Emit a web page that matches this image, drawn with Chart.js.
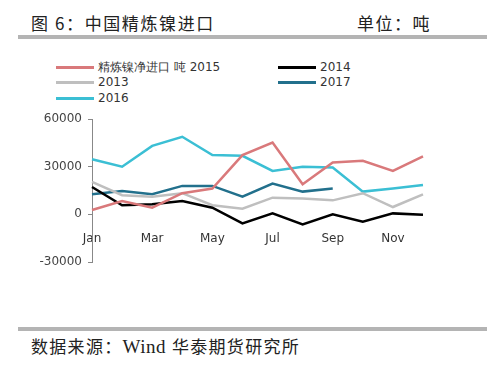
<!DOCTYPE html>
<html>
<head>
<meta charset="utf-8">
<script src="https://cdn.jsdelivr.net/npm/chart.js@4"></script>
<style>
  body { margin: 0; width: 500px; height: 368px; background: #fff; position: relative; overflow: hidden; font-family: "Noto Sans CJK SC", sans-serif; }
  #title { position: absolute; left: 31px; top: 10px; font-size: 17px; color: #222; letter-spacing: 1.6px; }
  #unit { position: absolute; left: 357px; top: 10px; font-size: 17px; color: #222; letter-spacing: 1.5px; }
  .bar { position: absolute; left: 18px; width: 469px; height: 4px; background: #b4b4b4; }
  #source { position: absolute; left: 31px; top: 333px; font-size: 17px; color: #222; letter-spacing: 1.3px; }
  #source .en { font-family: "Liberation Serif", serif; font-size: 19px; letter-spacing: 0.5px; margin-right: 6px; }
  #legend { position: absolute; left: 0; top: 59px; width: 500px; height: 50px; font-family: "DejaVu Sans", sans-serif; font-size: 12px; color: #333; }
  .item { position: absolute; height: 16px; line-height: 16px; white-space: nowrap; }
  .item span.ln { display: inline-block; width: 38px; height: 3px; vertical-align: middle; margin-right: 4px; }
  #wrap { position: absolute; left: 0; top: 100px; width: 500px; height: 180px; }
</style>
</head>
<body>
<div id="title">图 6：中国精炼镍进口</div>
<div id="unit">单位：吨</div>
<div class="bar" style="top:35px"></div>
<div id="legend"></div>
<div id="wrap"><canvas id="myChart"></canvas></div>
<div class="bar" style="top:327px"></div>
<div id="source">数据来源：<span class="en">Wind</span>华泰期货研究所</div>
<script>
const months = ['Jan', 'Feb', 'Mar', 'Apr', 'May', 'Jun', 'Jul', 'Aug', 'Sep', 'Oct', 'Nov', 'Dec'];
const yTicks = [-30000, 0, 30000, 60000];

const s2015 = [2700, 8400, 4200, 13300, 16200, 37300, 45200, 18900, 32600, 33700, 27300, 36400];
const s2014 = [17200, 5700, 6300, 8400, 4200, -5700, 600, -6300, 0, -4700, 600, -200];
const s2013 = [20400, 12000, 11100, 13300, 5700, 3500, 10500, 9900, 8800, 13300, 4600, 12600];
const s2017 = [12600, 14700, 12600, 17900, 17900, 11100, 19400, 14300, 16200, null, null, null];
const s2016 = [34700, 30000, 43100, 48800, 37300, 36800, 27300, 29900, 29500, 14300, 16200, 18500];

const series = [
    { label: '精炼镍净进口 吨 2015', data: s2015, color: '#d9797b', pos: [56, 0] },
    { label: '2014', data: s2014, color: '#000000', pos: [278, 0] },
    { label: '2013', data: s2013, color: '#bfbfbf', pos: [56, 15] },
    { label: '2017', data: s2017, color: '#22708c', pos: [278, 15] },
    { label: '2016', data: s2016, color: '#3bbfd4', pos: [56, 31] }
];

// legend laid out in two columns like the original
const legend = document.getElementById('legend');
series.forEach(function (s) {
    const d = document.createElement('div');
    d.className = 'item';
    d.style.left = s.pos[0] + 'px';
    d.style.top = s.pos[1] + 'px';
    d.innerHTML = '<span class="ln" style="background:' + s.color + '"></span>' + s.label;
    legend.appendChild(d);
});

const ctx = document.getElementById('myChart').getContext('2d');
const myChart = new Chart(ctx, {
    type: 'line',
    data: {
        labels: months,
        datasets: series.map(function (s) {
            return {
                label: s.label,
                data: s.data,
                borderColor: s.color,
                backgroundColor: s.color,
                borderWidth: 2.5,
                pointRadius: 0,
                tension: 0,
                spanGaps: false
            };
        })
    },
    options: {
        responsive: true,
        maintainAspectRatio: false,
        animation: false,
        layout: { padding: { left: 0, right: 77, top: 19, bottom: 18 } },
        plugins: { legend: { display: false }, tooltip: { enabled: false } },
        scales: {
            x: {
                position: { y: 0 },
                offset: false,
                grid: { display: false },
                border: { display: false },
                ticks: {
                    autoSkip: false,
                    maxRotation: 0,
                    padding: 9,
                    color: '#333',
                    font: { family: 'DejaVu Sans', size: 12 },
                    callback: function (v, i) { return i % 2 === 0 ? months[i] : ''; }
                }
            },
            y: {
                min: yTicks[0],
                max: yTicks[yTicks.length - 1],
                afterBuildTicks: function (scale) {
                    scale.ticks = yTicks.map(function (v) { return { value: v }; });
                },
                afterFit: function (scale) { scale.width = 92; },
                grid: { display: true, drawOnChartArea: false, drawTicks: true, tickLength: 4, color: '#888' },
                border: { display: true, color: '#888', width: 1 },
                ticks: {
                    padding: 6,
                    color: '#444',
                    font: { family: 'DejaVu Sans', size: 12 },
                    callback: function (v) { return String(v); }
                }
            }
        }
    }
});
</script>
</body>
</html>
